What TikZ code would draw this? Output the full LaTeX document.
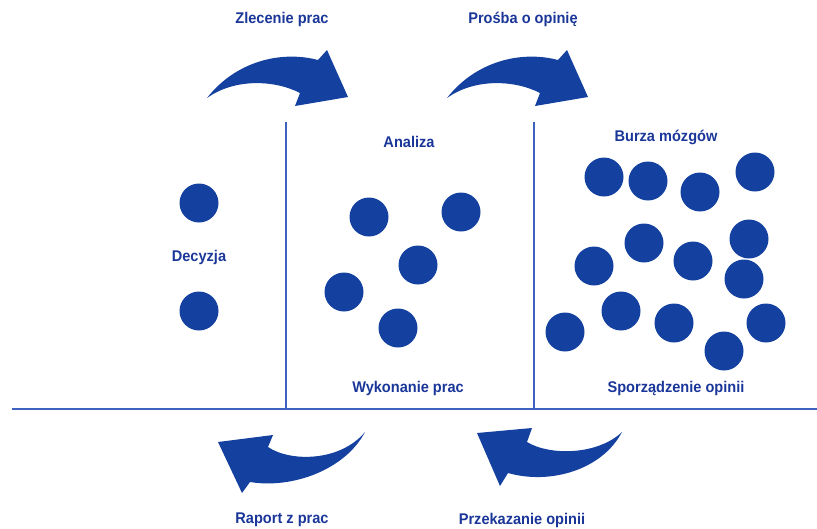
\documentclass[tikz,border=0pt]{standalone}
\usepackage{fontspec}
\setmainfont{Liberation Sans}
\definecolor{mainblue}{RGB}{20,64,160}
\definecolor{textblue}{RGB}{26,54,152}
\definecolor{lineblue}{RGB}{62,98,192}
\tikzset{
  dot/.style={circle, fill=mainblue, draw=none, minimum size=39pt, inner sep=0pt},
  lbl/.style={font=\bfseries\fontsize{15.5}{17}\selectfont, text=textblue, inner sep=0pt, xscale=0.94, transform shape},
  sep/.style={draw=lineblue, line width=1.5pt},
  bigarrow/.style={fill=mainblue, draw=none}
}
\begin{document}
\begin{tikzpicture}[x=1pt,y=-1pt]
\useasboundingbox (0,0) rectangle (817,528);
% frame lines
\coordinate (hl) at (12,409);
\coordinate (hr) at (817,409);
\coordinate (v1t) at (286,122);
\coordinate (v1b) at (286,409);
\coordinate (v2t) at (534,122);
\coordinate (v2b) at (534,409);
\draw[sep] (hl) -- (hr);
\draw[sep] (v1t) -- (v1b);
\draw[sep] (v2t) -- (v2b);
% curved arrows (top)
\fill[bigarrow] (207,98) .. controls (235,62) and (280,50) .. (318,60) -- (327,50) -- (348,97) -- (295,106) -- (300,93) .. controls (275,80) and (235,78) .. (207,98) -- cycle;
\begin{scope}[xshift=240pt]
\fill[bigarrow] (207,98) .. controls (235,62) and (280,50) .. (318,60) -- (327,50) -- (348,97) -- (295,106) -- (300,93) .. controls (275,80) and (235,78) .. (207,98) -- cycle;
\end{scope}
% curved arrows (bottom)
\fill[bigarrow] (365,432) .. controls (345,470) and (292,489) .. (250,482) -- (242,493) -- (218,442) -- (273,435) -- (268,447) .. controls (290,462) and (340,462) .. (365,432) -- cycle;
\fill[bigarrow] (622,432) .. controls (602,470) and (550,485) .. (508,473) -- (500,486) -- (477,433) -- (532,428) -- (527,442) .. controls (550,456) and (598,455) .. (622,432) -- cycle;
% labels
\node[lbl] (zlec) at (282,19) {Zlecenie prac};
\node[lbl] (pros) at (523,19) {Prośba o opinię};
\node[lbl] (anal) at (409,142) {Analiza};
\node[lbl] (burz) at (666,137) {Burza mózgów};
\node[lbl] (decy) at (199,257) {Decyzja};
\node[lbl] (wyko) at (408,388) {Wykonanie prac};
\node[lbl] (spor) at (676,388) {Sporządzenie opinii};
\node[lbl] (rapo) at (282,520) {Raport z prac};
\node[lbl] (prze) at (522,520) {Przekazanie opinii};
% dots left
\node[dot] (l1) at (199,203) {};
\node[dot] (l2) at (199,311) {};
% dots middle
\node[dot] (m1) at (369,217) {};
\node[dot] (m2) at (461,212) {};
\node[dot] (m3) at (418,265) {};
\node[dot] (m4) at (344,292) {};
\node[dot] (m5) at (398,328) {};
% dots right
\node[dot] (r1) at (604,177) {};
\node[dot] (r2) at (648,181) {};
\node[dot] (r3) at (700,192) {};
\node[dot] (r4) at (755,172) {};
\node[dot] (r5) at (644,243) {};
\node[dot] (r6) at (594,266) {};
\node[dot] (r7) at (693,261) {};
\node[dot] (r8) at (749,239) {};
\node[dot] (r9) at (744,279) {};
\node[dot] (r10) at (565,332) {};
\node[dot] (r11) at (621,311) {};
\node[dot] (r12) at (674,323) {};
\node[dot] (r13) at (766,323) {};
\node[dot] (r14) at (724,351) {};
\end{tikzpicture}
\end{document}
